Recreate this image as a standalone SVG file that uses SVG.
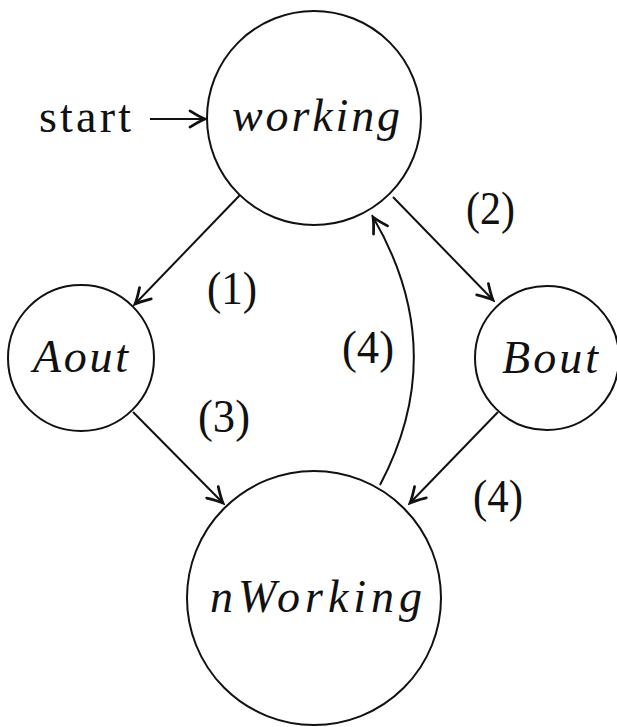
<svg xmlns="http://www.w3.org/2000/svg" width="617" height="727" viewBox="0 0 617 727">
<style>
.node{fill:#fff;stroke:#111;stroke-width:2}
.edge{fill:none;stroke:#111;stroke-width:2}
</style>
<defs>
<marker id="arr" markerUnits="userSpaceOnUse" markerWidth="20" markerHeight="20" viewBox="-14 -8 16 16" refX="0" refY="0" orient="auto">
<path d="M -12,-6.5 Q -4,-1.5 0,0 Q -4,1.5 -12,6.5" fill="none" stroke="#111" stroke-width="2.2" stroke-linecap="round"/>
</marker>
</defs>
<rect width="617" height="727" fill="#fff"/>
<g id="connectors">
<line class="edge" x1="150" y1="119" x2="205" y2="119" marker-end="url(#arr)"/>
<line class="edge" x1="240" y1="195" x2="135" y2="304" marker-end="url(#arr)"/>
<line class="edge" x1="393" y1="197" x2="493" y2="300" marker-end="url(#arr)"/>
<line class="edge" x1="133" y1="412" x2="223" y2="503" marker-end="url(#arr)"/>
<line class="edge" x1="498" y1="412" x2="410" y2="503" marker-end="url(#arr)"/>
<path class="edge" d="M 380,485 Q 451,351 373,217" marker-end="url(#arr)"/>
<g font-family="Liberation Serif, DejaVu Serif, serif" font-size="46" fill="#111">
<text x="207" y="303.5" textLength="50" lengthAdjust="spacingAndGlyphs">(1)</text>
<text x="466" y="224" textLength="49" lengthAdjust="spacingAndGlyphs">(2)</text>
<text x="198" y="432" textLength="52" lengthAdjust="spacingAndGlyphs">(3)</text>
<text x="342" y="363" textLength="52" lengthAdjust="spacingAndGlyphs">(4)</text>
<text x="473" y="512" textLength="50" lengthAdjust="spacingAndGlyphs">(4)</text>
</g>
</g>
<g id="start">
<text x="39" y="132" font-family="Liberation Serif, DejaVu Serif, serif" font-size="46" fill="#111" textLength="92" lengthAdjust="spacing">start</text>
</g>
<g font-family="Liberation Serif, DejaVu Serif, serif" font-style="italic" font-size="46" fill="#111">
<g id="working">
<circle class="node" cx="314" cy="118" r="107"/>
<text x="232" y="131" textLength="168" lengthAdjust="spacing">working</text>
</g>
<g id="Aout">
<circle class="node" cx="81" cy="358" r="73"/>
<text x="33" y="372" textLength="95" lengthAdjust="spacing">Aout</text>
</g>
<g id="Bout">
<circle class="node" cx="547" cy="358" r="72"/>
<text x="502" y="373" textLength="96" lengthAdjust="spacing">Bout</text>
</g>
<g id="nWorking">
<circle class="node" cx="314" cy="598" r="127"/>
<text x="210" y="612" textLength="212" lengthAdjust="spacing">nWorking</text>
</g>
</g>
</svg>
